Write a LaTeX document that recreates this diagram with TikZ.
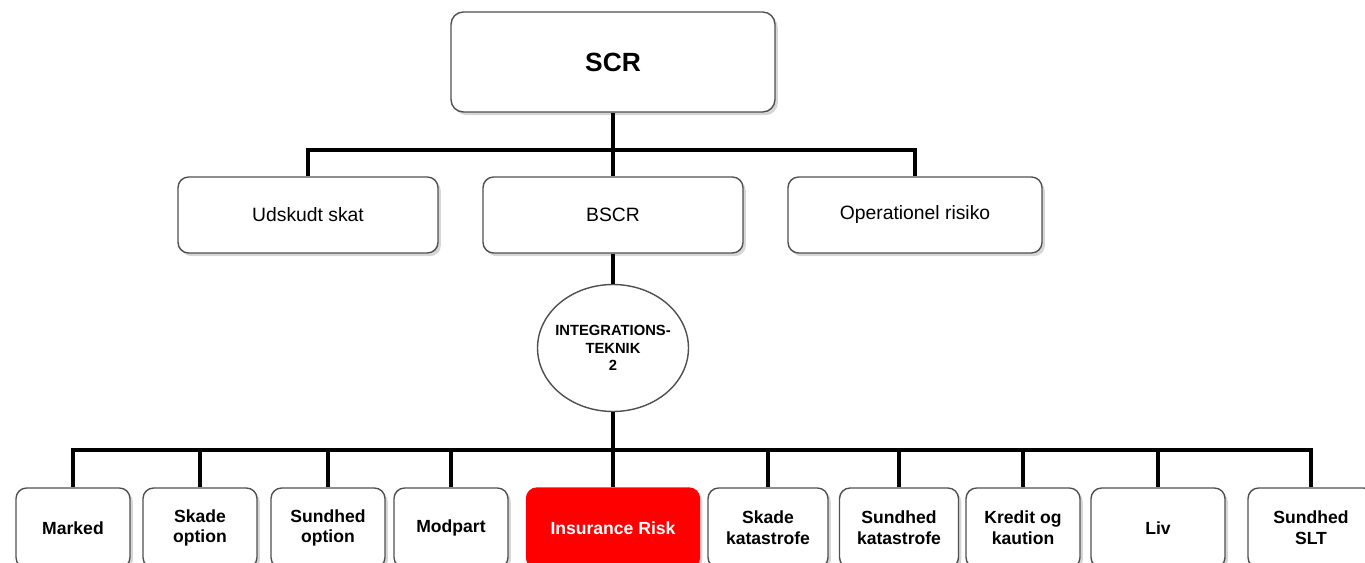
\documentclass[tikz,border=0pt]{standalone}
\usepackage{fontspec}
\setmainfont{Liberation Sans}
\usetikzlibrary{shapes.geometric,shadows}
\definecolor{scrRed}{RGB}{255,0,0}
\definecolor{scrEdge}{RGB}{80,80,80}
\definecolor{scrShade}{RGB}{120,120,120}
\tikzset{
  boxshade/.style={drop shadow={shadow xshift=1.6pt, shadow yshift=-1.8pt, opacity=0.3, fill=scrShade}},
  head/.style={draw=scrEdge, line width=0.8pt, rounded corners=7pt, fill=white, boxshade,
    minimum width=6.48cm, minimum height=2.0cm, align=center, font=\fontsize{15}{18}\selectfont\bfseries},
  branch/.style={draw=scrEdge, line width=0.8pt, rounded corners=6pt, fill=white, boxshade,
    minimum width=5.2cm, minimum height=1.52cm, align=center, font=\fontsize{11}{13}\selectfont},
  joint/.style={draw=scrEdge, line width=0.8pt, ellipse, fill=white, inner xsep=-0.25cm, inner ysep=0pt,
    minimum width=3.02cm, minimum height=2.54cm, align=center, font=\fontsize{8.4}{9.8}\selectfont\bfseries},
  leaf/.style={draw=scrEdge, line width=0.8pt, rounded corners=6pt, fill=white, boxshade,
    minimum width=2.28cm, minimum height=1.6cm, align=center, font=\fontsize{10}{11.8}\selectfont\bfseries},
  leafred/.style={leaf, draw=scrRed, fill=scrRed, text=white},
  wire/.style={line width=2.5pt, draw=black}
}

\begin{document}
\begin{tikzpicture}[x=0.02cm,y=-0.02cm]
    \clip (0,0) rectangle (1365,563);
    % top level
    \node[head] (scr) at (613,62) {SCR};
    \node[branch] (udskudt) at (308,215) {Udskudt skat};
    \node[branch] (bscr) at (613,215) {BSCR};
    \node[branch, minimum width=5.08cm] (oprisk) at (915,215) {Operationel risiko};
    \coordinate (bustop) at (613,150);
    \draw[wire] (scr.south) -- (bustop);
    \draw[wire] (bustop) -| (udskudt.north);
    \draw[wire] (bustop) -- (bscr.north);
    \draw[wire] (bustop) -| (oprisk.north);
    % aggregation
    \node[joint] (integ) at (613,348) {INTEGRATIONS-\\TEKNIK\\2};
    \draw[wire] (bscr.south) -- (integ.north);
    % risk modules
    \node[leaf] (marked) at (73,528) {Marked};
    \node[leaf] (skadeopt) at (200,528) {Skade\\option};
    \node[leaf] (sundopt) at (328,528) {Sundhed\\option};
    \node[leaf] (modpart) at (451,528) {Modpart};
    \node[leafred, minimum width=3.46cm] (insrisk) at (613,528) {Insurance Risk};
    \node[leaf, minimum width=2.4cm] (skadekat) at (768,528) {Skade\\katastrofe};
    \node[leaf, minimum width=2.38cm] (sundkat) at (899,528) {Sundhed\\katastrofe};
    \node[leaf] (kredit) at (1023,528) {Kredit og\\kaution};
    \node[leaf, minimum width=2.68cm] (liv) at (1158,528) {Liv};
    \node[leaf, minimum width=2.52cm] (sundslt) at (1311,528) {Sundhed\\SLT};
    \coordinate (buslow) at (613,450);
    \draw[wire] (integ.south) -- (buslow);
    \draw[wire] (buslow) -| (marked.north);
    \draw[wire] (buslow) -| (skadeopt.north);
    \draw[wire] (buslow) -| (sundopt.north);
    \draw[wire] (buslow) -| (modpart.north);
    \draw[wire] (buslow) -- (insrisk.north);
    \draw[wire] (buslow) -| (skadekat.north);
    \draw[wire] (buslow) -| (sundkat.north);
    \draw[wire] (buslow) -| (kredit.north);
    \draw[wire] (buslow) -| (liv.north);
    \draw[wire] (buslow) -| (sundslt.north);
  \end{tikzpicture}
\end{document}
